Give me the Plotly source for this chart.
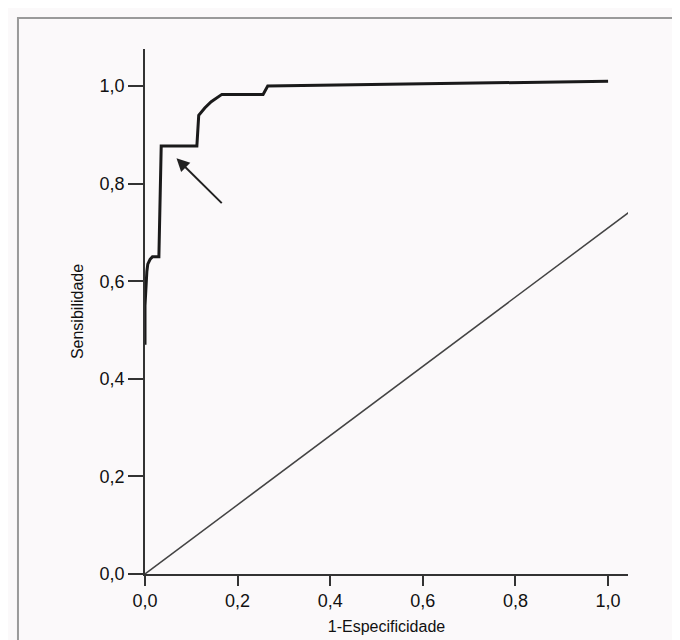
import plotly.graph_objects as go

# ROC curve (1-Especificidade, Sensibilidade)
fpr = [0.0, 0.0, 0.004, 0.006, 0.011, 0.016, 0.03, 0.035, 0.112, 0.116, 0.129, 0.143, 0.166, 0.255, 0.265, 1.0]
tpr = [0.47, 0.55, 0.62, 0.635, 0.645, 0.65, 0.65, 0.877, 0.877, 0.94, 0.955, 0.968, 0.983, 0.983, 1.0, 1.01]

# reference line as printed
ref_x = [0.0, 1.046]
ref_y = [0.0, 0.742]

# arrow (tail -> head)
arrow_tail = (0.169, 0.757)
arrow_head = (0.068, 0.852)

tick_vals = [0.0, 0.2, 0.4, 0.6, 0.8, 1.0]
tick_text = ["0,0", "0,2", "0,4", "0,6", "0,8", "1,0"]

fig = go.Figure()
fig.add_trace(go.Scatter(x=ref_x, y=ref_y, mode="lines",
                         line=dict(color="#444", width=1.5), showlegend=False, hoverinfo="skip"))
fig.add_trace(go.Scatter(x=fpr, y=tpr, mode="lines",
                         line=dict(color="#1a1a1a", width=3, shape="linear"), showlegend=False))

fig.add_annotation(x=arrow_head[0], y=arrow_head[1], ax=arrow_tail[0], ay=arrow_tail[1],
                   xref="x", yref="y", axref="x", ayref="y", text="",
                   showarrow=True, arrowhead=2, arrowsize=1.3, arrowwidth=2, arrowcolor="#222")

# scan frame
fig.add_shape(type="rect", xref="paper", yref="paper", x0=-0.263, x1=1.114, y0=-0.128, y1=1.059,
              line=dict(color="#9a9a9a", width=2), fillcolor="rgba(0,0,0,0)")

font_family = "Liberation Sans, Arial, sans-serif"
fig.update_layout(
    width=680, height=640,
    margin=dict(l=137, r=60, t=41, b=74),
    paper_bgcolor="#fbf9fa", plot_bgcolor="#fbf9fa",
    font=dict(family=font_family, color="#111", size=18),
    xaxis=dict(range=[0, 1.043], tickvals=tick_vals, ticktext=tick_text,
               showgrid=False, zeroline=False, showline=True, linecolor="#333", linewidth=1.5,
               ticks="outside", ticklen=10, tickwidth=2, tickcolor="#333",
               tickfont=dict(size=18),
               title=dict(text="1-Especificidade", font=dict(size=16), standoff=10)),
    yaxis=dict(range=[0, 1.076], tickvals=tick_vals, ticktext=tick_text,
               showgrid=False, zeroline=False, showline=True, linecolor="#333", linewidth=1.5,
               ticks="outside", ticklen=15, tickwidth=2, tickcolor="#333",
               tickfont=dict(size=18),
               title=dict(text="Sensibilidade", font=dict(size=16), standoff=12)),
)

fig.write_html("out.html")
